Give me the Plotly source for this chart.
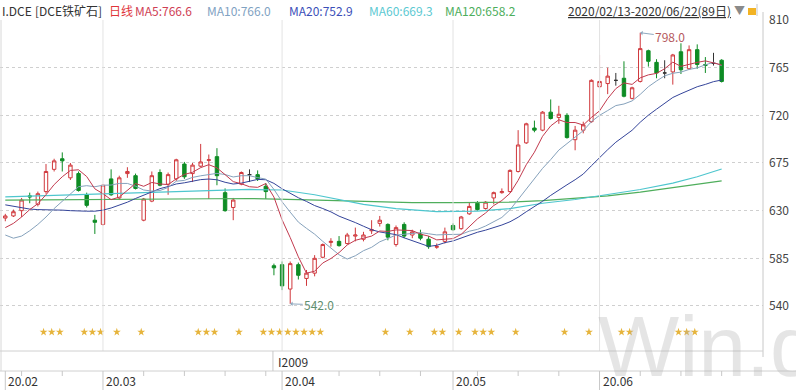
import plotly.graph_objects as go

# ---------------- data ----------------
opens = [623, 625, 630, 644, 636, 648, 669, 679, 661, 665,
         645, 621, 617, 660, 642, 665, 663, 621, 639, 666,
         655, 660, 674, 665, 672, 677.5, 681, 647, 633, 655,
         664, 664, 653, 578, 579, 556, 579, 566, 571, 586,
         600, 601, 599, 606, 603, 611, 618, 617, 598, 617,
         607, 608, 603, 595.5, 601, 616, 613, 627, 637, 632,
         642, 647, 648, 667, 694, 708, 706, 723, 718, 720,
         697, 706, 714, 747, 750, 753, 755, 736, 752, 781,
         770, 760, 761, 780, 764, 782, 768, 769, 772]
highs = [627, 631, 642, 647, 648, 674, 679, 685, 675, 667,
         647, 626, 655, 669, 663, 671, 665, 642, 667, 669,
         666, 679, 676, 675, 693, 683, 689, 651, 642, 667,
         669, 668, 656, 580, 582, 582, 581, 574, 588, 599,
         604, 606, 609, 614, 610, 621, 625, 618, 616, 619,
         612, 612, 606, 599, 614, 618, 625, 638, 639, 639,
         648, 651, 669, 706, 713, 715, 724, 735, 729, 722,
         710, 714, 754, 777, 765, 760, 771, 747, 798, 782,
         773, 772, 778, 788, 786, 787, 775, 779, 773]
lows = [620, 624, 624, 637, 634, 646, 667, 667, 659, 648,
        633, 608, 616, 644, 640, 661, 650, 620, 638, 653,
        645, 658, 660, 657, 671, 641, 654, 629, 621, 654,
        657, 658, 641, 569, 555, 542, 565, 559, 568, 585,
        596, 596, 598, 601, 601, 608, 615, 602, 596, 604,
        604, 602, 594, 594, 599, 611, 612, 626, 630, 631,
        636, 646, 647, 666, 693, 704, 705, 716, 712, 698,
        687, 703, 713, 745, 740, 748, 737, 735, 751, 766,
        755, 755, 749, 759, 763, 764, 760, 767, 751]
closes = [625, 629, 640, 643, 646, 667, 677, 677, 673, 649,
          635, 619, 654, 645, 661, 667, 651, 641, 663, 654,
          664, 678, 662, 673, 676, 678, 663, 630, 640, 666,
          664, 660, 648, 576, 559, 580, 569, 571, 585, 598,
          601, 597, 607, 607, 607, 612, 621, 605, 614, 606,
          610, 604, 596, 596, 610, 612, 624, 634, 631, 638,
          647, 648, 668, 692, 712, 706, 723, 717, 721, 699,
          706, 711, 753, 752, 757, 753, 738, 746, 783, 771,
          760, 760, 777, 763, 782, 768, 767, 769, 752]

ma5 = [614, 618, 624, 631, 636.6, 645.0, 654.6, 662.0, 668.0, 668.6,
       662.2, 650.6, 646.0, 640.4, 642.8, 649.2, 655.6, 653.0, 656.6, 655.2,
       654.6, 660.0, 664.2, 666.2, 670.6, 673.4, 670.4, 664.0, 657.4, 655.4,
       652.6, 652.0, 655.6, 642.8, 621.4, 604.6, 586.4, 571.0, 572.8, 580.6,
       584.8, 590.4, 597.6, 602.0, 603.8, 606.0, 610.8, 610.4, 611.8, 611.6,
       611.2, 607.8, 606.0, 602.4, 603.2, 603.6, 607.6, 615.2, 622.2, 627.8,
       634.8, 639.6, 646.4, 658.6, 673.4, 685.2, 700.2, 710.0, 715.8, 713.2,
       713.2, 710.8, 718.0, 724.2, 735.8, 745.2, 750.6, 749.2, 755.4, 758.2,
       759.6, 764.0, 770.2, 766.2, 768.4, 770.0, 771.4, 769.8, 767.6]
ma10 = [607, 604, 606, 611, 617, 624, 632, 639, 646, 652.6,
        653.6, 652.6, 654.0, 654.2, 655.7, 655.7, 653.1, 649.5, 648.5, 649.0,
        651.9, 657.8, 658.6, 661.4, 662.9, 664.0, 665.2, 664.1, 661.8, 663.0,
        663.0, 661.2, 659.8, 650.1, 638.4, 628.6, 619.2, 613.3, 607.8, 601.0,
        594.7, 588.4, 584.3, 587.4, 592.2, 595.4, 600.6, 604.0, 606.9, 607.7,
        608.6, 609.3, 608.2, 607.1, 607.4, 607.4, 607.7, 610.6, 612.3, 615.5,
        619.2, 623.6, 630.8, 640.4, 650.6, 660.0, 669.9, 678.2, 687.2, 693.3,
        699.2, 705.5, 714.0, 720.0, 724.5, 729.2, 730.7, 733.6, 739.8, 747.0,
        752.4, 757.3, 759.7, 760.8, 763.3, 764.8, 767.7, 770.0, 766.9]
ma20 = [635.5, 634, 632.5, 631.5, 631, 631, 631, 630.5, 630, 629.5,
        629.5, 629.5, 630.5, 632.5, 635, 638, 641.5, 644.5, 647.5, 650.8,
        652.75, 655.2, 656.3, 657.8, 659.3, 659.85, 659.15, 656.8, 655.15, 656.0,
        657.45, 659.5, 659.2, 655.75, 650.65, 646.3, 642.2, 638.7, 634.8, 632.0,
        628.85, 624.8, 622.05, 618.75, 615.3, 612.0, 609.9, 608.65, 607.35, 604.35,
        601.65, 598.85, 596.25, 597.25, 599.8, 601.4, 604.15, 607.3, 609.6, 611.6,
        613.9, 616.45, 619.5, 623.75, 629.0, 633.7, 638.8, 644.4, 649.75, 654.4,
        659.2, 664.55, 672.4, 680.2, 687.55, 694.6, 700.3, 705.9, 713.5, 720.15,
        725.8, 731.4, 736.85, 740.4, 743.9, 747.0, 749.2, 751.8, 753.35]
ma60_idx = [0, 6, 12, 18, 24, 30, 34, 38, 44, 48, 53, 58, 62, 66, 70, 74, 78, 82, 85, 88]
ma60_val = [643, 644.5, 646, 647.5, 649, 650, 649.5, 645, 636, 632, 629, 629.5,
            632, 637, 640.5, 645, 650, 656, 662, 669.3]
ma120_idx = [0, 10, 20, 30, 36, 44, 50, 56, 62, 66, 70, 74, 78, 82, 85, 88]
ma120_val = [640, 640.5, 641, 641.5, 640.5, 638.5, 637.5, 637.5, 638, 639.5,
             641.5, 644, 647.5, 651.5, 654.8, 658.2]

star_idx = [4, 5, 6, 9, 10, 11, 13, 16, 23, 24, 25, 28, 31, 32, 33, 34, 35, 36, 37, 38,
            46, 49, 52, 53, 55, 57, 58, 59, 62, 68, 71, 75, 76, 82, 83, 84]
month_labels = ["20.02", "20.03", "20.04", "20.05", "20.06"]
month_start_idx = [0, 12, 34, 55, 73]
week_tick_idx = [2, 7, 17, 22, 27, 32, 41, 46, 51, 58, 63, 68, 78, 83, 88]
contract_label = "I2009"
contract_switch_idx = 33
y_ticks = [540, 585, 630, 675, 720, 765, 810]

header_texts = ["I.DCE", "[DCE铁矿石]", "日线", "MA5:766.6", "MA10:766.0",
                "MA20:752.9", "MA60:669.3", "MA120:658.2"]
period_text = "2020/02/13-2020/06/22(89日)"

# ---------------- styling ----------------
FONT = "Noto Sans CJK SC, Noto Sans, sans-serif"
UP = "#D0383C"
DOWN = "#0E8C24"
DOJI = "#333333"
C_MA5, C_MA10, C_MA20, C_MA60, C_MA120 = "#C23A4E", "#86A2BC", "#34449A", "#4EC6CE", "#4FAE5C"
header_colors = ["#333333", "#333333", "#E0353A", "#CF3F55", "#7FA2C2",
                 "#3B4FB8", "#5CC9D2", "#4DAE5C"]
header_x = [0, 33, 107, 133, 205, 287, 367, 443]

W_PLOT, TOP, BOT = 763, 20, 351
H_PLOT = BOT - TOP


def px(xp):
    return xp / W_PLOT


def py(yp):
    return (BOT - yp) / H_PLOT


X0 = -0.651
X1 = 93.08
Y_LO, Y_HI = 497.5, 810

idx = list(range(len(closes)))
doji = [i for i in idx if opens[i] == closes[i]]
normal = [i for i in idx if opens[i] != closes[i]]

fig = go.Figure()

# watermark drawn first (behind chart marks)
fig.add_annotation(text="Win.d", xref="paper", yref="paper", x=px(596), y=py(346),
                   xanchor="left", yanchor="middle", showarrow=False,
                   font=dict(family="Liberation Sans, Arial, sans-serif", size=86,
                             color="rgba(175,175,175,0.32)"))

for xs, series, col in [(ma120_idx, ma120_val, C_MA120), (ma60_idx, ma60_val, C_MA60)]:
    fig.add_trace(go.Scatter(x=xs, y=series, mode="lines",
                             line=dict(color=col, width=1.2), hoverinfo="skip"))
for series, col in [(ma20, C_MA20), (ma10, C_MA10), (ma5, C_MA5)]:
    fig.add_trace(go.Scatter(x=idx, y=series, mode="lines",
                             line=dict(color=col, width=1), hoverinfo="skip"))

fig.add_trace(go.Candlestick(
    x=normal,
    open=[opens[i] for i in normal], high=[highs[i] for i in normal],
    low=[lows[i] for i in normal], close=[closes[i] for i in normal],
    increasing=dict(line=dict(color=UP, width=1), fillcolor="white"),
    decreasing=dict(line=dict(color=DOWN, width=1), fillcolor=DOWN),
    whiskerwidth=0))
fig.add_trace(go.Candlestick(
    x=doji,
    open=[opens[i] for i in doji], high=[highs[i] for i in doji],
    low=[lows[i] for i in doji], close=[closes[i] for i in doji],
    increasing=dict(line=dict(color=DOJI, width=1), fillcolor=DOJI),
    decreasing=dict(line=dict(color=DOJI, width=1), fillcolor=DOJI),
    whiskerwidth=0))

# star markers row
fig.add_trace(go.Scatter(x=[s + 0.7 for s in star_idx], y=[515.4] * len(star_idx),
                         mode="markers",
                         marker=dict(symbol="star", size=6, color="#E6B43C"),
                         hoverinfo="skip"))

shapes = []
for m in month_start_idx[1:]:
    shapes.append(dict(type="line", xref="x", yref="paper", x0=m, x1=m, y0=0, y1=1,
                       line=dict(color="#E3E3E3", width=1)))
shapes.append(dict(type="line", xref="paper", yref="paper", x0=px(1), x1=px(1),
                   y0=py(371), y1=py(20), line=dict(color="#D8D8D8", width=1)))
shapes.append(dict(type="line", xref="paper", yref="paper", x0=1, x1=1,
                   y0=py(357), y1=py(12), line=dict(color="#C8C8C8", width=1)))
shapes.append(dict(type="line", xref="paper", yref="paper", x0=0, x1=1,
                   y0=0, y1=0, line=dict(color="#D0D0D0", width=1)))
shapes.append(dict(type="line", xref="paper", yref="paper", x0=0, x1=px(796),
                   y0=py(371), y1=py(371), line=dict(color="#D0D0D0", width=1)))
shapes.append(dict(type="line", xref="x", yref="paper",
                   x0=contract_switch_idx - 0.12, x1=contract_switch_idx - 0.12,
                   y0=py(351), y1=py(371), line=dict(color="#C8C8C8", width=1)))
for m in month_start_idx:
    shapes.append(dict(type="line", xref="x", yref="paper", x0=m, x1=m,
                       y0=py(371), y1=py(390), line=dict(color="#C8C8C8", width=1)))
for w in week_tick_idx:
    shapes.append(dict(type="line", xref="x", yref="paper", x0=w, x1=w,
                       y0=py(371), y1=py(376), line=dict(color="#C8C8C8", width=1)))
shapes.append(dict(type="rect", xref="paper", yref="paper", x0=px(748), x1=px(756),
                   y0=py(15), y1=py(8), fillcolor="#F2B324", line=dict(width=0)))
shapes.append(dict(type="line", xref="paper", yref="paper", x0=px(757), x1=px(757),
                   y0=py(16), y1=py(4), line=dict(color="#C8C8C8", width=1)))

for t, c, xp in zip(header_texts, header_colors, header_x):
    fig.add_annotation(text=t, xref="paper", yref="paper", x=px(xp), y=py(10),
                       xanchor="left", yanchor="middle", showarrow=False,
                       font=dict(family=FONT, size=12, color=c))
fig.add_annotation(text="<u>" + period_text + "</u>", xref="paper", yref="paper",
                   x=px(566), y=py(10), xanchor="left", yanchor="middle",
                   showarrow=False, font=dict(family=FONT, size=12, color="#333333"))
fig.add_annotation(text="▼", xref="paper", yref="paper", x=px(732), y=py(10),
                   xanchor="left", yanchor="middle", showarrow=False,
                   font=dict(family=FONT, size=11, color="#8A8A8A"))
for lab, m in zip(month_labels, month_start_idx):
    fig.add_annotation(text=lab, xref="x", yref="paper", x=m, y=py(381),
                       xanchor="left", yanchor="middle", xshift=1, showarrow=False,
                       font=dict(family=FONT, size=12, color="#333333"))
fig.add_annotation(text=contract_label, xref="x", yref="paper",
                   x=contract_switch_idx, y=py(361), xanchor="left",
                   yanchor="middle", xshift=2, showarrow=False,
                   font=dict(family=FONT, size=12, color="#333333"))
hi_i = highs.index(max(highs))
lo_i = lows.index(min(lows))
fig.add_annotation(x=hi_i, y=highs[hi_i], xref="x", yref="y",
                   text=f"{highs[hi_i]:.1f}", showarrow=True, ax=30, ay=4,
                   arrowhead=1, arrowsize=0.8, arrowwidth=1, arrowcolor="#8FA9BF",
                   font=dict(family=FONT, size=12, color="#B5595E"))
fig.add_annotation(x=lo_i, y=lows[lo_i], xref="x", yref="y",
                   text=f"{lows[lo_i]:.1f}", showarrow=True, ax=29, ay=1,
                   arrowhead=1, arrowsize=0.8, arrowwidth=1, arrowcolor="#8FA9BF",
                   font=dict(family=FONT, size=12, color="#5F8F6F"))

fig.update_layout(
    width=796, height=390,
    margin=dict(l=0, r=796 - W_PLOT, t=TOP, b=390 - BOT),
    paper_bgcolor="white", plot_bgcolor="white",
    showlegend=False, boxgap=0.4,
    font=dict(family=FONT, size=12, color="#333333"),
    xaxis=dict(range=[X0, X1], showgrid=False, zeroline=False, showticklabels=False,
               ticks="", showline=False, rangeslider=dict(visible=False), fixedrange=True),
    yaxis=dict(side="right", range=[Y_LO, Y_HI], tickvals=y_ticks,
               ticktext=[str(v) for v in y_ticks],
               showgrid=True, gridcolor="#CFCFCF", griddash="dot", gridwidth=1,
               zeroline=False, showline=False, ticks="", ticklabelstandoff=5,
               tickfont=dict(family=FONT, size=12, color="#444444"), fixedrange=True),
    shapes=shapes,
)

fig.write_html("out.html")
